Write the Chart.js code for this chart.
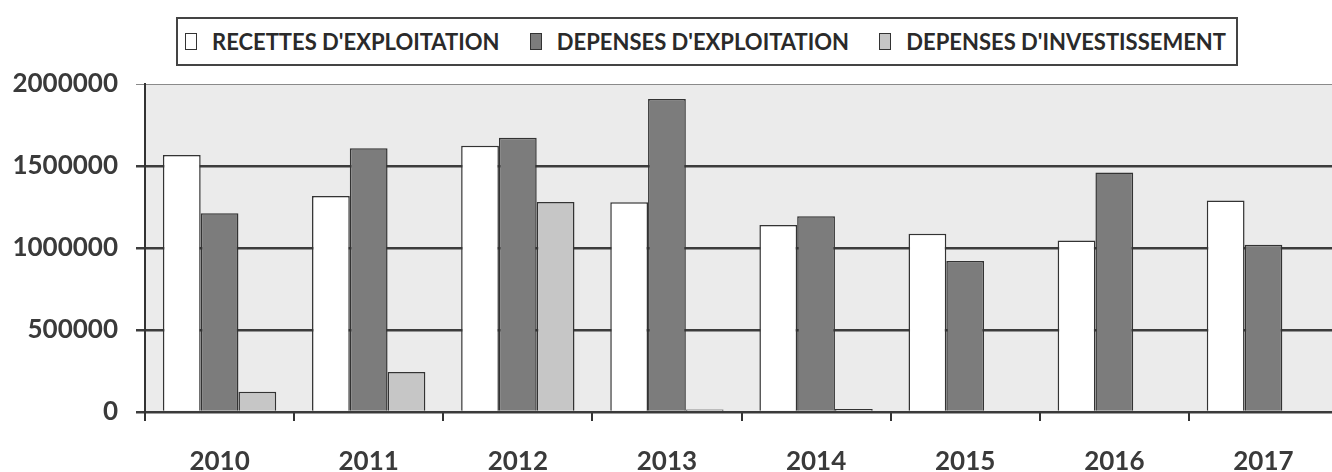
<!DOCTYPE html>
<html>
<head>
<meta charset="utf-8">
<script src="https://cdn.jsdelivr.net/npm/chart.js@4/dist/chart.umd.min.js"></script>
<style>
  html, body {
    margin: 0;
    padding: 0;
    background: #ffffff;
    overflow: hidden;
    width: 1332px;
    height: 472px;
  }
  #wrap {
    position: relative;
    width: 1340px;
    height: 472px;
  }
  #legend {
    position: absolute;
    left: 176px;
    top: 17px;
    width: 1062px;
    height: 49px;
    box-sizing: border-box;
    border: 2px solid #444;
    display: flex;
    align-items: center;
    justify-content: space-between;
    padding: 0 10px 0 7px;
    font-family: Lato, "Open Sans", sans-serif;
    font-size: 22px;
    font-weight: 700;
    color: #2a2a2a;
    background: #fff;
  }
  .item {
    display: flex;
    align-items: center;
    white-space: nowrap;
  }
  .swatch {
    display: inline-block;
    width: 12px;
    height: 17px;
    box-sizing: border-box;
    border: 1.5px solid #333;
    margin-right: 15px;
  }
</style>
</head>
<body>
<div id="wrap">
  <canvas id="chart" width="1340" height="472"></canvas>
  <div id="legend"></div>
</div>
<script>
const years = ["2010", "2011", "2012", "2013", "2014", "2015", "2016", "2017"];
const recettesExploitation = [1567000, 1317000, 1624000, 1279000, 1140000, 1087000, 1045000, 1290000];
const depensesExploitation = [1212000, 1608000, 1673000, 1909000, 1193000, 921000, 1460000, 1020000];
const depensesInvestissement = [124000, 244000, 1280000, 15000, 18000, 0, 0, 0];
const yTicks = [0, 500000, 1000000, 1500000, 2000000];

const seriesNames = ["RECETTES D'EXPLOITATION", "DEPENSES D'EXPLOITATION", "DEPENSES D'INVESTISSEMENT"];
const seriesColors = ["#ffffff", "#7c7c7c", "#c6c6c6"];

const plotBackground = {
  id: "plotBackground",
  beforeDraw(chart) {
    const area = chart.chartArea;
    const ctx = chart.ctx;
    ctx.save();
    ctx.fillStyle = "#ebebeb";
    ctx.fillRect(area.left, area.top, area.right - area.left, area.bottom - area.top);
    ctx.restore();
  },
};

const tickFont = {
  family: "Lato, 'Open Sans', sans-serif",
  size: 26,
  weight: "bold",
};

new Chart(document.getElementById("chart"), {
  type: "bar",
  data: {
    labels: years,
    datasets: [recettesExploitation, depensesExploitation, depensesInvestissement].map((values, i) => ({
      label: seriesNames[i],
      data: values,
      backgroundColor: seriesColors[i],
      borderColor: "#333333",
      borderWidth: 1.5,
      borderSkipped: "bottom",
      categoryPercentage: 0.76,
      barPercentage: 1,
    })),
  },
  options: {
    responsive: false,
    animation: false,
    layout: {
      padding: { top: 84, right: 2, left: 0, bottom: 0 },
    },
    plugins: {
      legend: { display: false },
      tooltip: { enabled: false },
    },
    scales: {
      x: {
        afterFit(scale) {
          scale.height = 60;
        },
        border: { display: true, color: "#3a3a3a", width: 2 },
        grid: {
          offset: true,
          drawOnChartArea: false,
          drawTicks: true,
          tickLength: 9,
          color: "#333333",
          lineWidth: 2,
        },
        ticks: {
          font: tickFont,
          color: "#3a3a3a",
          padding: 25,
          maxRotation: 0,
        },
      },
      y: {
        min: 0,
        max: 2000000,
        afterFit(scale) {
          scale.width = 145;
        },
        afterBuildTicks(scale) {
          scale.ticks = yTicks.map((v) => ({ value: v }));
        },
        border: { display: true, color: "#333333", width: 2 },
        grid: {
          drawTicks: true,
          tickLength: 9,
          color: (ctx) => (ctx.tick && ctx.tick.value === 2000000 ? "#8a8a8a" : "#3c3c3c"),
          lineWidth: (ctx) => (ctx.tick && ctx.tick.value === 2000000 ? 1 : 2.5),
        },
        ticks: {
          font: tickFont,
          color: "#3a3a3a",
          padding: 18,
          callback: (value) => String(value),
        },
      },
    },
  },
  plugins: [plotBackground],
});

const legend = document.getElementById("legend");
seriesNames.forEach((name, i) => {
  const item = document.createElement("div");
  item.className = "item";
  item.innerHTML = `<span class="swatch" style="background:${seriesColors[i]}"></span><span>${name}</span>`;
  legend.appendChild(item);
});
</script>
</body>
</html>
